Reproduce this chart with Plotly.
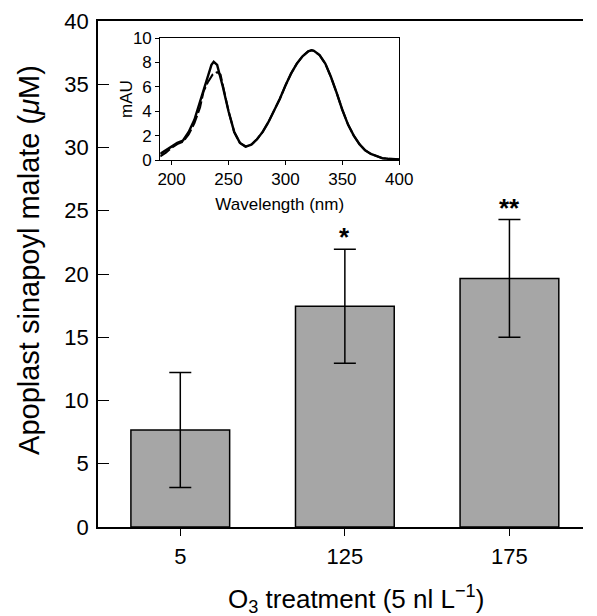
import plotly.graph_objects as go

# ---- main bar data ----
treatments = ["5", "125", "175"]
sm_means = [7.67, 17.45, 19.65]
sm_err = [4.55, 4.5, 4.65]
sig_labels = ["", "*", "**"]

# ---- inset spectra ----
wl = [190, 195, 200, 205, 210, 215, 220, 225, 230, 235, 237, 240, 245, 250, 255, 260, 265,
      270, 275, 280, 285, 290, 295, 300, 305, 310, 315, 320, 323, 325, 330, 335, 340, 345,
      350, 355, 360, 365, 370, 375, 380, 385, 390, 395, 400]
abs_solid = [0.5, 0.8, 1.1, 1.4, 1.6, 2.3, 3.3, 4.8, 6.4, 7.8, 8.05, 7.8, 6.0, 4.0, 2.3, 1.4, 1.1,
             1.25, 1.7, 2.3, 3.1, 4.0, 5.0, 6.1, 7.1, 7.9, 8.5, 8.9, 9.0, 8.95, 8.6, 7.9, 6.8, 5.5,
             4.1, 2.9, 2.0, 1.3, 0.8, 0.5, 0.3, 0.15, 0.1, 0.05, 0.05]
wl_dash = [190, 195, 200, 205, 210, 215, 220, 225, 228, 232, 236, 240, 243, 246, 250, 255, 260, 265,
           270, 275, 280, 285, 290, 295, 300, 305, 310, 315, 320, 323, 325, 330, 335, 340, 345,
           350, 355, 360, 365, 370, 375, 380, 385, 390, 395, 400]
abs_dash = [0.3, 0.6, 1.0, 1.3, 1.5, 2.1, 3.0, 4.3, 5.6, 6.4, 7.0, 7.2, 7.0, 5.8, 4.0, 2.3, 1.4, 1.1,
            1.25, 1.7, 2.3, 3.1, 4.0, 5.0, 6.1, 7.1, 7.9, 8.5, 8.9, 9.0, 8.95, 8.6, 7.9, 6.8, 5.5,
            4.1, 2.9, 2.0, 1.3, 0.8, 0.5, 0.3, 0.15, 0.1, 0.05, 0.05]

FONT = "Liberation Sans, Arial, sans-serif"
xpos = list(range(len(treatments)))

fig = go.Figure()
fig.add_trace(go.Bar(
    x=xpos, y=sm_means, width=0.6,
    marker=dict(color="#a6a6a6", line=dict(color="black", width=1.5)),
    error_y=dict(type="data", array=sm_err, color="black", thickness=1.5, width=11),
    showlegend=False,
))

fig.add_trace(go.Scatter(x=wl, y=abs_solid, mode="lines", line=dict(color="black", width=2.4),
                         xaxis="x2", yaxis="y2", showlegend=False))
fig.add_trace(go.Scatter(x=wl_dash, y=abs_dash, mode="lines",
                         line=dict(color="black", width=2, dash="12px,3px"),
                         xaxis="x2", yaxis="y2", showlegend=False))

for i, s in enumerate(sig_labels):
    if s:
        fig.add_annotation(x=xpos[i], y=sm_means[i] + sm_err[i], text="<b>" + s + "</b>",
                           showarrow=False, yanchor="bottom", yshift=-5,
                           font=dict(family=FONT, size=26, color="black"))

# page body has an 8px margin, so the figure is shrunk by 8px to fit the window
fig.update_layout(
    width=589, height=608,
    margin=dict(l=90, r=0, t=13, b=89),
    paper_bgcolor="white", plot_bgcolor="white",
    font=dict(family=FONT, color="black"),
    xaxis=dict(range=[-0.5, 2.447], tickvals=xpos, ticktext=treatments,
               showline=True, linecolor="black", linewidth=1.5, mirror=True,
               ticks="outside", ticklen=7, tickcolor="black", tickwidth=1.2,
               tickfont=dict(size=22), ticklabelstandoff=2, showgrid=False, zeroline=False),
    yaxis=dict(range=[0, 40], dtick=5, showline=True, linecolor="black", linewidth=1.5,
               ticks="inside", ticklen=11, tickcolor="black", tickwidth=1.2,
               tickfont=dict(size=22), ticklabelstandoff=3, showgrid=False, zeroline=False),
    xaxis2=dict(domain=[0.1283, 0.6212], anchor="y2", range=[190, 400],
                tickvals=[200, 250, 300, 350, 400], showline=True, linecolor="black",
                linewidth=1, mirror=True, ticks="outside", ticklen=4, tickcolor="black",
                tickfont=dict(size=17), showgrid=False, zeroline=False,
                title=dict(text="Wavelength (nm)", font=dict(size=17), standoff=9)),
    yaxis2=dict(domain=[0.7253, 0.9664], anchor="x2", range=[0, 10], dtick=2,
                showline=True, linecolor="black", linewidth=1, mirror=True,
                ticks="outside", ticklen=4, tickcolor="black",
                tickfont=dict(size=17), showgrid=False, zeroline=False),
)

fig.add_annotation(xref="paper", yref="paper", x=0.060, y=0.846, xanchor="center", yanchor="middle",
                   text="mAU", textangle=-90, showarrow=False,
                   font=dict(family=FONT, size=17))
fig.add_annotation(xref="paper", yref="paper", x=-0.142, y=0.528, xanchor="center", yanchor="middle",
                   text="Apoplast sinapoyl malate (<i>μ</i>M)", textangle=-90, showarrow=False,
                   font=dict(family=FONT, size=29))
fig.add_annotation(xref="paper", yref="paper", x=0.531, y=-0.142, xanchor="center", yanchor="middle",
                   text="O<sub>3</sub> treatment (5 nl L<sup>−1</sup>)", showarrow=False,
                   font=dict(family=FONT, size=26))

fig.write_html("out.html")
